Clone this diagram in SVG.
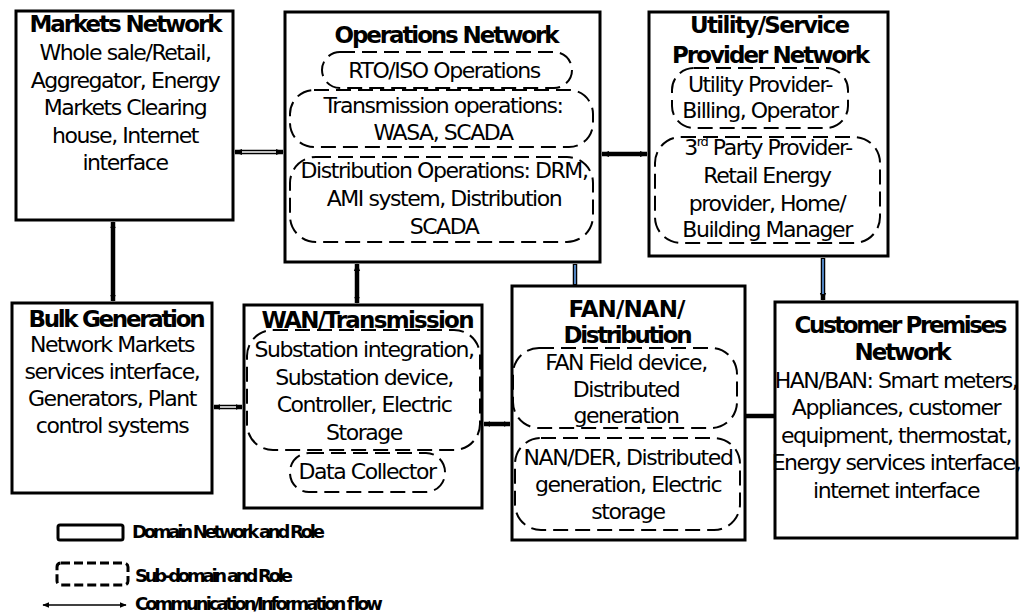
<svg xmlns="http://www.w3.org/2000/svg" width="1020" height="613" viewBox="0 0 1020 613">
  <style>
    .box { fill: #fff; stroke: #000; stroke-width: 3; }
    .sub { fill: none; stroke: #000; stroke-width: 2; stroke-dasharray: 15 7; }
    .t { font-family: "DejaVu Sans", "Liberation Sans", sans-serif; font-size: 22px; letter-spacing: -1.45px; text-anchor: middle; fill: #000; }
    .h { font-family: "DejaVu Sans", "Liberation Sans", sans-serif; font-size: 23px; font-weight: bold; text-anchor: middle; fill: #000; }
    .lg { font-family: "DejaVu Sans", "Liberation Sans", sans-serif; font-size: 18px; font-weight: bold; fill: #000; }
    .wire { stroke: #000; stroke-width: 4.5; fill: none; }
    .hollow { stroke: #fff; stroke-width: 1.5; fill: none; }
    .blue { stroke: #4f81bd; stroke-width: 2; fill: none; }
  </style>
  <defs>
    <marker id="ah" viewBox="0 0 10 10" refX="9" refY="5" markerWidth="8" markerHeight="8" markerUnits="userSpaceOnUse" orient="auto-start-reverse">
      <path d="M0,1 L10,5 L0,9 z" fill="#000"/>
    </marker>
    <marker id="ahs" viewBox="0 0 10 10" refX="9" refY="5" markerWidth="7" markerHeight="7" markerUnits="userSpaceOnUse" orient="auto-start-reverse">
      <path d="M0,1 L10,5 L0,9 z" fill="#000"/>
    </marker>
  </defs>

  <rect width="1020" height="613" fill="#fff"/>

  <!-- connectors -->
  <g id="connectors">
    <!-- Markets <-> Operations (hollow) -->
    <line class="wire" x1="235" y1="152" x2="283" y2="152" stroke-width="5.5" marker-start="url(#ah)" marker-end="url(#ah)"/>
    <line class="hollow" x1="242" y1="152" x2="276" y2="152"/>
    <!-- Operations <-> Utility -->
    <line class="wire" x1="602" y1="154" x2="647" y2="154" marker-start="url(#ah)" marker-end="url(#ah)"/>
    <!-- Markets <-> Bulk Generation -->
    <line class="wire" x1="113" y1="222" x2="113" y2="301" stroke-width="5" marker-start="url(#ahs)" marker-end="url(#ahs)"/>
    <!-- Operations <-> WAN -->
    <line class="wire" x1="357" y1="264" x2="357" y2="303" marker-start="url(#ah)" marker-end="url(#ahs)"/>
    <!-- Operations <-> FAN (blue core) -->
    <line class="wire" x1="575" y1="264" x2="575" y2="285" stroke-width="5.5"/>
    <line class="blue" x1="575" y1="265" x2="575" y2="284"/>
    <!-- Utility <-> Customer (blue core) -->
    <line class="wire" x1="823" y1="258" x2="823" y2="300" stroke-width="5.5" marker-end="url(#ah)"/>
    <line class="blue" x1="823" y1="259" x2="823" y2="294"/>
    <!-- Bulk <-> WAN (hollow) -->
    <line class="wire" x1="214" y1="407" x2="242" y2="407" stroke-width="5.5" marker-start="url(#ahs)" marker-end="url(#ahs)"/>
    <line class="hollow" x1="220" y1="407" x2="236" y2="407"/>
    <!-- WAN <-> FAN -->
    <line class="wire" x1="484" y1="424" x2="510" y2="424" marker-start="url(#ahs)" marker-end="url(#ahs)"/>
    <!-- FAN <-> Customer -->
    <line class="wire" x1="746" y1="416" x2="774" y2="416" stroke-width="2.5"/>
  </g>

  <!-- Markets Network -->
  <g id="markets">
    <rect class="box" x="16" y="11" width="217" height="209"/>
    <text class="h" x="126" y="32" textLength="193" lengthAdjust="spacing">Markets Network</text>
    <text class="t" x="125" y="60">Whole sale/Retail,</text>
    <text class="t" x="125" y="87.5">Aggregator, Energy</text>
    <text class="t" x="125" y="115">Markets Clearing</text>
    <text class="t" x="125" y="142.5">house, Internet</text>
    <text class="t" x="125" y="170">interface</text>
  </g>

  <!-- Operations Network -->
  <g id="operations">
    <rect class="box" x="285" y="12" width="315" height="250"/>
    <text class="h" x="447" y="43" textLength="225" lengthAdjust="spacing">Operations Network</text>
    <rect class="sub" x="322" y="52" width="250" height="36" rx="18"/>
    <text class="t" x="444" y="78">RTO/ISO Operations</text>
    <rect class="sub" x="290" y="90" width="303" height="57" rx="24"/>
    <text class="t" x="443" y="113">Transmission operations:</text>
    <text class="t" x="443" y="140">WASA, SCADA</text>
    <rect class="sub" x="290" y="157" width="303" height="85" rx="26"/>
    <text class="t" x="444" y="178">Distribution Operations: DRM,</text>
    <text class="t" x="444" y="206">AMI system, Distribution</text>
    <text class="t" x="444" y="234">SCADA</text>
  </g>

  <!-- Utility / Service Provider Network -->
  <g id="utility">
    <rect class="box" x="649" y="12" width="239" height="244"/>
    <text class="h" x="770" y="33" textLength="160" lengthAdjust="spacing">Utility/Service</text>
    <text class="h" x="771" y="63" textLength="198" lengthAdjust="spacing">Provider Network</text>
    <rect class="sub" x="672" y="68" width="176" height="60" rx="22"/>
    <text class="t" x="760" y="92">Utility Provider-</text>
    <text class="t" x="760" y="118">Billing, Operator</text>
    <rect class="sub" x="655" y="137" width="225" height="106" rx="26"/>
    <text class="t" x="768" y="155">3<tspan font-size="13" dy="-9">rd</tspan><tspan dy="9"> Party Provider-</tspan></text>
    <text class="t" x="767" y="183">Retail Energy</text>
    <text class="t" x="767" y="211">provider, Home/</text>
    <text class="t" x="767" y="237">Building Manager</text>
  </g>

  <!-- Bulk Generation -->
  <g id="bulk">
    <rect class="box" x="12" y="303" width="200" height="190"/>
    <text class="h" x="117" y="327" textLength="177" lengthAdjust="spacing">Bulk Generation</text>
    <text class="t" x="112" y="352">Network Markets</text>
    <text class="t" x="112" y="379">services interface,</text>
    <text class="t" x="112" y="406">Generators, Plant</text>
    <text class="t" x="112" y="433">control systems</text>
  </g>

  <!-- WAN / Transmission -->
  <g id="wan">
    <rect class="box" x="244" y="305" width="238" height="203"/>
    <text class="h" x="368" y="328" textLength="213" lengthAdjust="spacing">WAN/Transmission</text>
    <rect class="sub" x="247" y="330" width="233" height="120" rx="26"/>
    <text class="t" x="364" y="357">Substation integration,</text>
    <text class="t" x="364" y="385">Substation device,</text>
    <text class="t" x="364" y="412">Controller, Electric</text>
    <text class="t" x="364" y="440">Storage</text>
    <rect class="sub" x="290" y="453" width="155" height="39" rx="19"/>
    <text class="t" x="367" y="479">Data Collector</text>
  </g>

  <!-- FAN / NAN / Distribution -->
  <g id="fan">
    <rect class="box" x="512" y="286" width="233" height="254"/>
    <text class="h" x="627" y="317" textLength="117" lengthAdjust="spacing">FAN/NAN/</text>
    <text class="h" x="628" y="343" textLength="129" lengthAdjust="spacing">Distribution</text>
    <rect class="sub" x="513" y="348" width="224" height="80" rx="26"/>
    <text class="t" x="626" y="370">FAN Field device,</text>
    <text class="t" x="626" y="397">Distributed</text>
    <text class="t" x="626" y="423">generation</text>
    <rect class="sub" x="515" y="438" width="225" height="92" rx="26"/>
    <text class="t" x="628" y="465">NAN/DER, Distributed</text>
    <text class="t" x="628" y="492">generation, Electric</text>
    <text class="t" x="628" y="519">storage</text>
  </g>

  <!-- Customer Premises Network -->
  <g id="customer">
    <rect class="box" x="775" y="302" width="242" height="236"/>
    <text class="h" x="901" y="333" textLength="213" lengthAdjust="spacing">Customer Premises</text>
    <text class="h" x="903" y="360" textLength="97" lengthAdjust="spacing">Network</text>
    <text class="t" x="896" y="388">HAN/BAN: Smart meters,</text>
    <text class="t" x="896" y="415">Appliances, customer</text>
    <text class="t" x="896" y="443">equipment, thermostat,</text>
    <text class="t" x="896" y="470">Energy services interface,</text>
    <text class="t" x="896" y="498">internet interface</text>
  </g>

  <!-- legend -->
  <g id="legend">
    <rect x="58" y="525" width="65" height="15" rx="2" fill="#fff" stroke="#000" stroke-width="3"/>
    <text class="lg" x="132" y="538" textLength="193" lengthAdjust="spacing">Domain Network and Role</text>
    <rect x="57" y="563" width="71" height="22" rx="4" fill="none" stroke="#000" stroke-width="3" stroke-dasharray="9 4"/>
    <text class="lg" x="135" y="582" textLength="158" lengthAdjust="spacing">Sub-domain and Role</text>
    <line x1="43" y1="605" x2="126" y2="605" stroke="#000" stroke-width="1.5" marker-start="url(#ahs)" marker-end="url(#ahs)"/>
    <text class="lg" x="135" y="610" textLength="248" lengthAdjust="spacing">Communication/Information flow</text>
  </g>
</svg>
